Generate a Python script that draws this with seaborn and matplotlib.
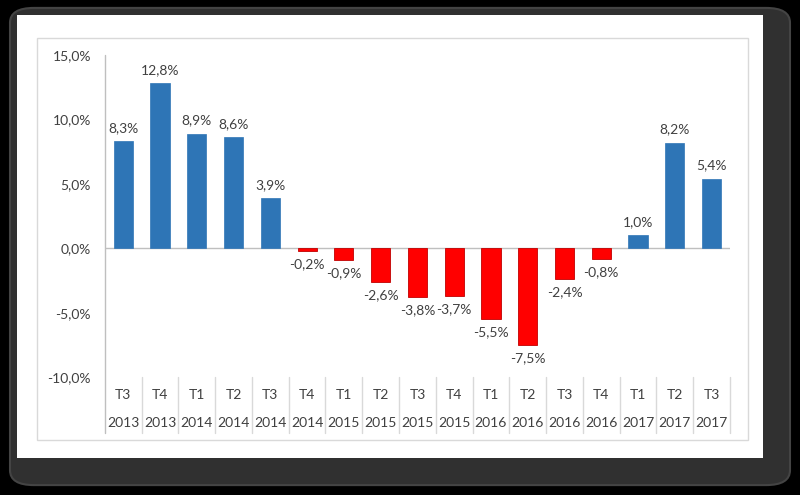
import pandas as pd
import numpy as np
import matplotlib
matplotlib.use("Agg")
import matplotlib.pyplot as plt
from matplotlib.patches import FancyBboxPatch, Rectangle
import seaborn as sns

# data
quarters = ['T3', 'T4', 'T1', 'T2', 'T3', 'T4', 'T1', 'T2', 'T3', 'T4',
            'T1', 'T2', 'T3', 'T4', 'T1', 'T2', 'T3']
years = ['2013', '2013', '2014', '2014', '2014', '2014', '2015', '2015', '2015',
         '2015', '2016', '2016', '2016', '2016', '2017', '2017', '2017']
values = [8.3, 12.8, 8.9, 8.6, 3.9, -0.2, -0.9, -2.6, -3.8, -3.7,
          -5.5, -7.5, -2.4, -0.8, 1.0, 8.2, 5.4]
yticks = [-10, -5, 0, 5, 10, 15]

df = pd.DataFrame({'period': [f'{q}\n{y}' for q, y in zip(quarters, years)],
                   'value': values})
df['sign'] = np.where(df['value'] >= 0, 'pos', 'neg')

sns.set_style('white')
plt.rcParams['font.family'] = ['Lato', 'DejaVu Sans']

fig = plt.figure(figsize=(8, 4.95), dpi=100, facecolor='black')

# card with dark frame
fig.patches.append(FancyBboxPatch((0.0125, 0.020), 0.975, 0.964,
                                  boxstyle='round,pad=0,rounding_size=0.03',
                                  transform=fig.transFigure, facecolor='#303030',
                                  edgecolor='#444444', lw=1.5, zorder=0))
fig.patches.append(Rectangle((0.0213, 0.075), 0.932, 0.895, transform=fig.transFigure,
                             facecolor='white', edgecolor='none', zorder=1))
fig.patches.append(Rectangle((0.046, 0.111), 0.889, 0.812, transform=fig.transFigure,
                             facecolor='none', edgecolor='#D9D9D9', lw=1, zorder=2))

ax = fig.add_axes([0.131, 0.238, 0.7815, 0.651])
ax.set_zorder(5)
ax.set_facecolor('none')
sns.barplot(data=df, x='period', y='value', hue='sign',
            palette={'pos': '#2E75B6', 'neg': '#FF0000'}, width=0.52,
            saturation=1, legend=False, ax=ax, zorder=3)
for bar in ax.patches:
    if bar.get_height() < 0 or bar.get_y() < 0:
        bar.set_edgecolor('#C00000')
        bar.set_linewidth(0.6)
    else:
        bar.set_edgecolor('#2E75B6')
        bar.set_linewidth(0.5)

ax.set_ylim(-10, 15)
ax.set_xlim(-0.5, len(values) - 0.5)
ax.set_yticks(yticks)
ax.set_yticklabels([f'{t:.1f}%'.replace('.', ',') for t in yticks],
                   fontsize=10, color='#404040')
ax.tick_params(axis='y', length=0, pad=10)
ax.set_xticks([])
ax.set_xlabel('')
ax.set_ylabel('')
for s in ['top', 'right', 'bottom', 'left']:
    ax.spines[s].set_visible(False)
ax.axhline(0, color='#BFBFBF', lw=1, zorder=2)

# value labels
for i, v in enumerate(values):
    off = 0.55 if v >= 0 else -0.55
    ax.text(i, v + off, f'{v:.1f}%'.replace('.', ','), ha='center',
            va='bottom' if v >= 0 else 'top', fontsize=10, color='#404040')

# category table below the axis
tr = ax.get_xaxis_transform()
for i, (q, y) in enumerate(zip(quarters, years)):
    ax.text(i, -0.056, q, transform=tr, ha='center', va='center',
            fontsize=10, color='#404040', clip_on=False)
    ax.text(i, -0.143, y, transform=tr, ha='center', va='center',
            fontsize=10, color='#404040', clip_on=False)
ax.axvline(-0.5, ymin=-0.174, ymax=1.0, color='#BFBFBF', lw=1, clip_on=False, zorder=2)
for b in np.arange(0.5, len(values), 1.0):
    ax.axvline(b, ymin=-0.174, ymax=0.0, color='#D9D9D9', lw=1, clip_on=False, zorder=2)

fig.savefig('out.png', dpi=100, facecolor=fig.get_facecolor())
